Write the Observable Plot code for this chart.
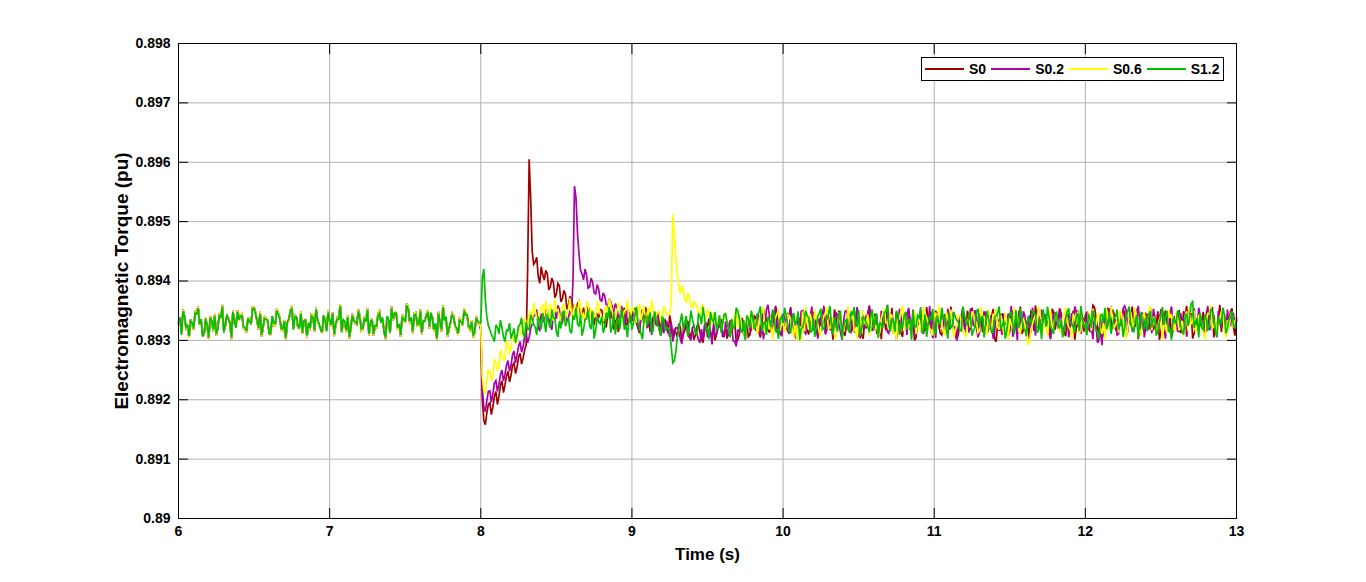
<!DOCTYPE html>
<html>
<head>
<meta charset="utf-8">
<script src="https://cdn.jsdelivr.net/npm/d3@7"></script>
<script src="https://cdn.jsdelivr.net/npm/@observablehq/plot@0.6"></script>
<style>
  html, body { margin: 0; padding: 0; background: #fff; }
  #wrap { position: relative; width: 1366px; height: 582px; overflow: hidden; }
  #legend { position: absolute; left: 921px; top: 57px; height: 22px; padding: 0 3px 0 3px;
    border: 1px solid #000; background: #fff; display: flex; align-items: center;
    font: bold 14px "Liberation Sans", Arial, sans-serif; color: #000; }
  #legend .ln { display: block; width: 39px; height: 2px; margin-right: 5px; }
  #legend .tx { margin-right: 5px; }
  #legend .tx:last-child { margin-right: 0; }
</style>
</head>
<body>
<div id="wrap"><div id="legend"></div></div>
<script>
// ---- data ----
const seriesNames = ["S0", "S0.2", "S0.6", "S1.2"];
const seriesColors = ["#a00000", "#aa00aa", "#ffff00", "#00c000"];
const xTicks = [6, 7, 8, 9, 10, 11, 12, 13];
const xTickLabels = ["6", "7", "8", "9", "10", "11", "12", "13"];
const yTicks = [0.890, 0.891, 0.892, 0.893, 0.894, 0.895, 0.896, 0.897, 0.898];
const yTickLabels = ["0.89", "0.891", "0.892", "0.893", "0.894", "0.895", "0.896", "0.897", "0.898"];
const xLabel = "Time (s)";
const yLabel = "Electromagnetic Torque (pu)";

// Samples at t = 6.00, 6.02, ... 7.98 (S0, S0.2 and S0.6 coincide before the event)
const preShared = [
0.89328,0.89312,0.89341,0.89322,0.89335,0.89318,0.89347,0.89326,0.89309,0.89338,
0.89303,0.89331,0.89344,0.89321,0.89336,0.89316,0.89342,0.89329,0.89350,0.89324,
0.89333,0.89345,0.89319,0.89339,0.89327,0.89356,0.89331,0.89348,0.89322,0.89337,
0.89314,0.89340,0.89325,0.89346,0.89318,0.89334,0.89329,0.89351,0.89320,0.89338,
0.89323,0.89311,0.89336,0.89327,0.89344,0.89315,0.89333,0.89321,0.89340,0.89317,
0.89332,0.89347,0.89324,0.89338,0.89313,0.89330,0.89342,0.89319,0.89335,0.89326,
0.89341,0.89318,0.89333,0.89308,0.89337,0.89322,0.89345,0.89328,0.89316,0.89339,
0.89311,0.89334,0.89349,0.89326,0.89343,0.89330,0.89355,0.89337,0.89346,0.89324,
0.89352,0.89331,0.89344,0.89320,0.89339,0.89327,0.89348,0.89315,0.89336,0.89306,
0.89329,0.89342,0.89318,0.89337,0.89325,0.89346,0.89321,0.89334,0.89313,0.89330];
// Samples at t = 6.01, 6.03, ... 7.99
const preSharedMid = [
0.89336,0.89352,0.89319,0.89304,0.89327,0.89349,0.89357,0.89333,0.89310,0.89322,
0.89341,0.89315,0.89308,0.89346,0.89360,0.89324,0.89338,0.89302,0.89329,0.89351,
0.89344,0.89320,0.89313,0.89335,0.89356,0.89347,0.89318,0.89306,0.89340,0.89331,
0.89309,0.89325,0.89353,0.89339,0.89316,0.89301,0.89334,0.89358,0.89343,0.89321,
0.89348,0.89330,0.89305,0.89317,0.89342,0.89355,0.89326,0.89311,0.89337,0.89350,
0.89323,0.89307,0.89339,0.89361,0.89332,0.89314,0.89303,0.89345,0.89328,0.89352,
0.89316,0.89340,0.89354,0.89327,0.89308,0.89321,0.89349,0.89336,0.89302,0.89333,
0.89357,0.89343,0.89318,0.89306,0.89338,0.89362,0.89329,0.89312,0.89347,0.89324,
0.89310,0.89335,0.89351,0.89344,0.89315,0.89300,0.89328,0.89359,0.89337,0.89319,
0.89346,0.89322,0.89309,0.89334,0.89353,0.89340,0.89317,0.89305,0.89341,0.89328];
const preS12 = [
0.89330,0.89309,0.89340,0.89325,0.89333,0.89320,0.89344,0.89327,0.89306,0.89336,
0.89305,0.89334,0.89341,0.89319,0.89338,0.89313,0.89343,0.89331,0.89348,0.89321,
0.89335,0.89342,0.89322,0.89337,0.89329,0.89354,0.89333,0.89345,0.89324,0.89335,
0.89311,0.89341,0.89328,0.89343,0.89320,0.89332,0.89331,0.89348,0.89318,0.89340,
0.89320,0.89313,0.89334,0.89330,0.89341,0.89317,0.89335,0.89318,0.89342,0.89315,
0.89334,0.89345,0.89327,0.89335,0.89315,0.89332,0.89339,0.89322,0.89333,0.89328,
0.89338,0.89320,0.89331,0.89311,0.89335,0.89325,0.89342,0.89330,0.89314,0.89341,
0.89313,0.89336,0.89346,0.89328,0.89340,0.89333,0.89352,0.89339,0.89343,0.89327,
0.89349,0.89333,0.89341,0.89323,0.89336,0.89329,0.89345,0.89318,0.89333,0.89309,
0.89331,0.89339,0.89321,0.89335,0.89327,0.89343,0.89324,0.89331,0.89316,0.89332];
const preS12Mid = [
0.89339,0.89349,0.89322,0.89307,0.89330,0.89346,0.89354,0.89336,0.89313,0.89325,
0.89338,0.89318,0.89311,0.89343,0.89357,0.89327,0.89335,0.89305,0.89332,0.89348,
0.89341,0.89323,0.89316,0.89332,0.89353,0.89344,0.89321,0.89309,0.89337,0.89334,
0.89312,0.89328,0.89350,0.89336,0.89319,0.89304,0.89337,0.89355,0.89340,0.89324,
0.89345,0.89333,0.89308,0.89320,0.89339,0.89352,0.89329,0.89314,0.89334,0.89347,
0.89326,0.89310,0.89336,0.89358,0.89335,0.89317,0.89306,0.89342,0.89331,0.89349,
0.89319,0.89337,0.89351,0.89330,0.89311,0.89324,0.89346,0.89339,0.89305,0.89336,
0.89354,0.89346,0.89321,0.89309,0.89335,0.89359,0.89332,0.89315,0.89344,0.89327,
0.89313,0.89332,0.89348,0.89347,0.89318,0.89303,0.89331,0.89356,0.89340,0.89322,
0.89343,0.89325,0.89312,0.89331,0.89350,0.89343,0.89320,0.89308,0.89338,0.89330];

// Samples at t = 8.00, 8.02, ... 13.00
const postS0 = [
0.89318,0.89165,0.89178,0.89195,0.89188,0.89214,0.89206,0.89232,0.89225,0.89248,
0.89241,0.89262,0.89255,0.89278,0.89270,0.89292,0.89605,0.89450,0.89432,0.89408,
0.89424,0.89402,0.89412,0.89390,0.89398,0.89378,0.89392,0.89370,0.89378,0.89360,
0.89368,0.89352,0.89362,0.89345,0.89355,0.89340,0.89350,0.89332,0.89346,0.89338,
0.89351,0.89327,0.89344,0.89336,0.89318,0.89349,0.89330,0.89342,0.89325,0.89347,
0.89333,0.89354,0.89321,0.89340,0.89329,0.89345,0.89316,0.89338,0.89326,0.89343,
0.89320,0.89334,0.89312,0.89328,0.89318,0.89306,0.89322,0.89310,0.89326,0.89304,
0.89318,0.89309,0.89327,0.89302,0.89315,0.89324,0.89308,0.89321,0.89311,0.89330,
0.89306,0.89319,0.89328,0.89312,0.89334,0.89301,0.89322,0.89315,0.89331,0.89309,
0.89325,0.89338,0.89314,0.89329,0.89343,0.89318,0.89336,0.89322,0.89347,0.89311,
0.89334,0.89320,0.89341,0.89327,0.89306,0.89338,0.89323,0.89345,0.89316,0.89332,
0.89348,0.89319,0.89337,0.89325,0.89312,0.89340,0.89328,0.89352,0.89321,0.89335,
0.89314,0.89329,0.89343,0.89318,0.89337,0.89324,0.89308,0.89333,0.89346,0.89320,
0.89336,0.89311,0.89327,0.89342,0.89317,0.89331,0.89355,0.89322,0.89338,0.89313,
0.89330,0.89345,0.89319,0.89334,0.89305,0.89326,0.89341,0.89316,0.89332,0.89348,
0.89321,0.89337,0.89312,0.89329,0.89344,0.89318,0.89335,0.89323,0.89310,0.89339,
0.89326,0.89350,0.89317,0.89333,0.89322,0.89345,0.89314,0.89331,0.89319,0.89340,
0.89302,0.89328,0.89343,0.89320,0.89336,0.89315,0.89347,0.89325,0.89338,0.89311,
0.89334,0.89322,0.89349,0.89316,0.89330,0.89341,0.89319,0.89335,0.89327,0.89353,
0.89318,0.89332,0.89345,0.89313,0.89339,0.89324,0.89350,0.89321,0.89336,0.89329,
0.89342,0.89317,0.89333,0.89356,0.89322,0.89338,0.89311,0.89344,0.89327,0.89352,
0.89319,0.89336,0.89324,0.89347,0.89315,0.89340,0.89328,0.89353,0.89321,0.89334,
0.89345,0.89318,0.89331,0.89326,0.89349,0.89314,0.89337,0.89323,0.89342,0.89316,
0.89333,0.89351,0.89320,0.89338,0.89327,0.89346,0.89312,0.89335,0.89324,0.89348,
0.89319,0.89340,0.89356,0.89325,0.89337,0.89314,0.89343,0.89330,0.89348,0.89322,
0.89338];
// Samples at t = 8.01, 8.03, ... 12.99
const postS0Mid = [
0.89200,0.89158,0.89192,0.89175,0.89206,0.89192,0.89224,0.89212,0.89240,0.89230,
0.89258,0.89244,0.89272,0.89260,0.89284,0.89420,0.89540,0.89428,0.89440,0.89396,
0.89410,0.89418,0.89385,0.89405,0.89372,0.89396,0.89365,0.89384,0.89352,0.89374,
0.89358,0.89347,0.89366,0.89340,0.89335,0.89357,0.89349,0.89326,0.89344,0.89352,
0.89338,0.89322,0.89351,0.89360,0.89331,0.89314,0.89340,0.89355,0.89327,0.89345,
0.89350,0.89329,0.89312,0.89341,0.89356,0.89334,0.89318,0.89347,0.89325,0.89308,
0.89331,0.89319,0.89342,0.89305,0.89314,0.89328,0.89298,0.89317,0.89333,0.89310,
0.89301,0.89324,0.89313,0.89296,0.89328,0.89337,0.89309,0.89300,0.89322,0.89335,
0.89314,0.89303,0.89331,0.89326,0.89297,0.89310,0.89338,0.89319,0.89306,0.89329,
0.89341,0.89318,0.89305,0.89352,0.89330,0.89313,0.89346,0.89358,0.89327,0.89309,
0.89320,0.89344,0.89356,0.89316,0.89302,0.89335,0.89349,0.89325,0.89310,0.89341,
0.89333,0.89305,0.89326,0.89358,0.89342,0.89317,0.89301,0.89339,0.89350,0.89322,
0.89308,0.89346,0.89331,0.89315,0.89354,0.89338,0.89303,0.89320,0.89357,0.89329,
0.89345,0.89318,0.89302,0.89337,0.89360,0.89324,0.89311,0.89348,0.89334,0.89306,
0.89339,0.89352,0.89314,0.89300,0.89333,0.89347,0.89321,0.89356,0.89328,0.89304,
0.89350,0.89325,0.89309,0.89343,0.89331,0.89357,0.89318,0.89302,0.89336,0.89349,
0.89313,0.89340,0.89355,0.89323,0.89305,0.89338,0.89346,0.89312,0.89329,0.89353,
0.89298,0.89316,0.89344,0.89335,0.89308,0.89351,0.89324,0.89339,0.89357,0.89317,
0.89330,0.89303,0.89347,0.89359,0.89321,0.89312,0.89340,0.89326,0.89305,0.89348,
0.89336,0.89354,0.89319,0.89307,0.89343,0.89328,0.89301,0.89350,0.89333,0.89315,
0.89348,0.89326,0.89359,0.89340,0.89311,0.89304,0.89337,0.89355,0.89322,0.89344,
0.89314,0.89331,0.89352,0.89308,0.89339,0.89357,0.89325,0.89302,0.89346,0.89320,
0.89343,0.89355,0.89317,0.89329,0.89301,0.89336,0.89350,0.89318,0.89306,0.89341,
0.89327,0.89312,0.89349,0.89358,0.89334,0.89303,0.89320,0.89345,0.89331,0.89310,
0.89352,0.89337,0.89305,0.89326,0.89360,0.89341,0.89315,0.89329,0.89354,0.89308];

const postS02 = [
0.89320,0.89188,0.89198,0.89215,0.89210,0.89232,0.89226,0.89250,0.89243,0.89266,
0.89258,0.89282,0.89275,0.89298,0.89290,0.89312,0.89305,0.89328,0.89342,0.89320,
0.89345,0.89331,0.89350,0.89326,0.89344,0.89336,0.89352,0.89330,0.89347,0.89338,
0.89342,0.89560,0.89480,0.89418,0.89402,0.89410,0.89390,0.89398,0.89378,0.89386,
0.89366,0.89375,0.89356,0.89365,0.89348,0.89355,0.89338,0.89350,0.89333,0.89346,
0.89337,0.89352,0.89328,0.89343,0.89335,0.89322,0.89348,0.89331,0.89340,0.89318,
0.89336,0.89325,0.89315,0.89330,0.89309,0.89321,0.89303,0.89317,0.89328,0.89306,
0.89322,0.89313,0.89301,0.89319,0.89326,0.89305,0.89316,0.89329,0.89310,0.89323,
0.89314,0.89332,0.89307,0.89325,0.89298,0.89318,0.89330,0.89311,0.89327,0.89319,
0.89335,0.89316,0.89341,0.89328,0.89319,0.89360,0.89322,0.89337,0.89313,0.89330,
0.89345,0.89326,0.89311,0.89338,0.89320,0.89333,0.89349,0.89315,0.89328,0.89341,
0.89317,0.89334,0.89323,0.89346,0.89310,0.89329,0.89338,0.89321,0.89343,0.89314,
0.89331,0.89350,0.89318,0.89336,0.89325,0.89307,0.89339,0.89322,0.89333,0.89347,
0.89320,0.89341,0.89315,0.89329,0.89336,0.89312,0.89344,0.89326,0.89318,0.89339,
0.89324,0.89309,0.89337,0.89352,0.89321,0.89334,0.89316,0.89340,0.89328,0.89313,
0.89335,0.89348,0.89322,0.89339,0.89317,0.89331,0.89345,0.89308,0.89327,0.89343,
0.89319,0.89336,0.89354,0.89324,0.89341,0.89313,0.89330,0.89347,0.89321,0.89338,
0.89315,0.89333,0.89320,0.89345,0.89328,0.89339,0.89306,0.89332,0.89350,0.89318,
0.89341,0.89325,0.89313,0.89336,0.89352,0.89319,0.89334,0.89344,0.89311,0.89330,
0.89346,0.89320,0.89337,0.89315,0.89342,0.89328,0.89317,0.89349,0.89326,0.89339,
0.89314,0.89331,0.89322,0.89345,0.89296,0.89318,0.89340,0.89326,0.89352,0.89320,
0.89335,0.89311,0.89329,0.89358,0.89324,0.89338,0.89316,0.89343,0.89330,0.89347,
0.89321,0.89336,0.89312,0.89340,0.89327,0.89351,0.89318,0.89333,0.89346,0.89323,
0.89339,0.89315,0.89330,0.89348,0.89322,0.89336,0.89354,0.89319,0.89341,0.89328,
0.89344,0.89317,0.89333,0.89326,0.89350,0.89321,0.89338,0.89352,0.89324,0.89345,
0.89332];
const postS02Mid = [
0.89220,0.89180,0.89214,0.89196,0.89228,0.89214,0.89242,0.89232,0.89258,0.89248,
0.89276,0.89262,0.89290,0.89280,0.89306,0.89296,0.89320,0.89341,0.89352,0.89317,
0.89334,0.89356,0.89340,0.89318,0.89347,0.89359,0.89326,0.89345,0.89333,0.89350,
0.89400,0.89540,0.89445,0.89412,0.89420,0.89388,0.89405,0.89380,0.89394,0.89368,
0.89380,0.89360,0.89370,0.89345,0.89362,0.89340,0.89358,0.89326,0.89352,0.89330,
0.89346,0.89331,0.89315,0.89352,0.89340,0.89324,0.89309,0.89336,0.89347,0.89320,
0.89312,0.89333,0.89306,0.89298,0.89321,0.89315,0.89294,0.89327,0.89308,0.89300,
0.89325,0.89311,0.89296,0.89302,0.89330,0.89318,0.89293,0.89309,0.89324,0.89336,
0.89305,0.89320,0.89334,0.89299,0.89290,0.89314,0.89327,0.89303,0.89338,0.89317,
0.89328,0.89345,0.89310,0.89302,0.89352,0.89341,0.89319,0.89356,0.89333,0.89307,
0.89339,0.89316,0.89353,0.89344,0.89304,0.89325,0.89350,0.89311,0.89336,0.89357,
0.89322,0.89303,0.89340,0.89355,0.89318,0.89332,0.89308,0.89347,0.89326,0.89301,
0.89349,0.89335,0.89312,0.89329,0.89356,0.89305,0.89320,0.89343,0.89359,0.89316,
0.89331,0.89307,0.89350,0.89338,0.89314,0.89345,0.89327,0.89302,0.89353,0.89320,
0.89340,0.89355,0.89318,0.89306,0.89334,0.89349,0.89311,0.89326,0.89358,0.89337,
0.89304,0.89328,0.89346,0.89321,0.89353,0.89339,0.89310,0.89300,0.89342,0.89356,
0.89325,0.89313,0.89337,0.89351,0.89306,0.89330,0.89348,0.89319,0.89341,0.89303,
0.89352,0.89334,0.89309,0.89327,0.89345,0.89358,0.89316,0.89300,0.89338,0.89349,
0.89317,0.89342,0.89355,0.89308,0.89329,0.89352,0.89336,0.89313,0.89302,0.89344,
0.89330,0.89351,0.89320,0.89339,0.89305,0.89346,0.89357,0.89324,0.89311,0.89335,
0.89348,0.89314,0.89302,0.89328,0.89300,0.89292,0.89318,0.89340,0.89355,0.89326,
0.89309,0.89343,0.89354,0.89350,0.89331,0.89316,0.89345,0.89358,0.89322,0.89305,
0.89340,0.89327,0.89353,0.89311,0.89336,0.89349,0.89303,0.89320,0.89357,0.89333,
0.89315,0.89346,0.89330,0.89306,0.89352,0.89341,0.89318,0.89355,0.89326,0.89339,
0.89358,0.89321,0.89343,0.89305,0.89335,0.89350,0.89312,0.89329,0.89346,0.89324];

const postS06 = [
0.89322,0.89215,0.89232,0.89248,0.89240,0.89262,0.89255,0.89276,0.89268,0.89292,
0.89285,0.89305,0.89298,0.89318,0.89312,0.89330,0.89342,0.89328,0.89351,0.89336,
0.89355,0.89340,0.89347,0.89362,0.89333,0.89350,0.89341,0.89358,0.89337,0.89352,
0.89343,0.89360,0.89338,0.89353,0.89345,0.89364,0.89336,0.89350,0.89342,0.89357,
0.89339,0.89354,0.89346,0.89361,0.89335,0.89349,0.89358,0.89340,0.89352,0.89337,
0.89356,0.89343,0.89350,0.89334,0.89359,0.89345,0.89338,0.89353,0.89341,0.89348,
0.89336,0.89351,0.89344,0.89360,0.89480,0.89412,0.89378,0.89385,0.89365,0.89372,
0.89355,0.89362,0.89348,0.89356,0.89340,0.89351,0.89333,0.89346,0.89328,0.89342,
0.89325,0.89338,0.89319,0.89333,0.89345,0.89322,0.89336,0.89314,0.89329,0.89341,
0.89318,0.89335,0.89326,0.89347,0.89312,0.89330,0.89339,0.89321,0.89344,0.89316,
0.89333,0.89327,0.89342,0.89319,0.89336,0.89324,0.89298,0.89315,0.89330,0.89345,
0.89322,0.89338,0.89313,0.89331,0.89347,0.89320,0.89335,0.89309,0.89328,0.89342,
0.89316,0.89334,0.89325,0.89350,0.89319,0.89337,0.89312,0.89330,0.89344,0.89321,
0.89339,0.89326,0.89313,0.89345,0.89330,0.89318,0.89341,0.89323,0.89335,0.89349,
0.89315,0.89332,0.89327,0.89343,0.89311,0.89336,0.89320,0.89346,0.89329,0.89317,
0.89340,0.89323,0.89337,0.89314,0.89348,0.89326,0.89333,0.89319,0.89342,0.89328,
0.89312,0.89335,0.89321,0.89344,0.89330,0.89316,0.89339,0.89325,0.89351,0.89318,
0.89334,0.89322,0.89343,0.89310,0.89329,0.89337,0.89320,0.89346,0.89315,0.89331,
0.89327,0.89294,0.89318,0.89336,0.89324,0.89347,0.89313,0.89332,0.89340,0.89321,
0.89338,0.89325,0.89314,0.89342,0.89330,0.89319,0.89345,0.89327,0.89311,0.89336,
0.89323,0.89348,0.89316,0.89334,0.89341,0.89320,0.89329,0.89353,0.89318,0.89337,
0.89326,0.89313,0.89344,0.89331,0.89319,0.89348,0.89322,0.89336,0.89314,0.89340,
0.89329,0.89346,0.89317,0.89335,0.89321,0.89342,0.89330,0.89312,0.89338,0.89325,
0.89347,0.89318,0.89333,0.89340,0.89315,0.89328,0.89350,0.89324,0.89337,0.89313,
0.89331,0.89345,0.89320,0.89336,0.89327,0.89349,0.89316,0.89334,0.89341,0.89322,
0.89336];
const postS06Mid = [
0.89240,0.89210,0.89250,0.89232,0.89268,0.89250,0.89284,0.89266,0.89300,0.89280,
0.89312,0.89296,0.89326,0.89310,0.89340,0.89322,0.89350,0.89363,0.89338,0.89346,
0.89359,0.89366,0.89336,0.89344,0.89369,0.89352,0.89331,0.89360,0.89348,0.89371,
0.89337,0.89355,0.89368,0.89341,0.89330,0.89362,0.89351,0.89339,0.89366,0.89345,
0.89333,0.89357,0.89370,0.89348,0.89336,0.89362,0.89329,0.89350,0.89367,0.89340,
0.89353,0.89330,0.89361,0.89346,0.89327,0.89355,0.89368,0.89338,0.89349,0.89332,
0.89358,0.89343,0.89345,0.89512,0.89440,0.89390,0.89392,0.89368,0.89380,0.89358,
0.89366,0.89357,0.89345,0.89360,0.89338,0.89349,0.89327,0.89341,0.89330,0.89318,
0.89342,0.89331,0.89308,0.89322,0.89350,0.89339,0.89313,0.89304,0.89336,0.89347,
0.89325,0.89311,0.89344,0.89356,0.89330,0.89318,0.89302,0.89339,0.89352,0.89327,
0.89314,0.89343,0.89335,0.89306,0.89300,0.89322,0.89349,0.89356,0.89318,0.89331,
0.89352,0.89327,0.89309,0.89341,0.89355,0.89320,0.89336,0.89303,0.89345,0.89312,
0.89330,0.89357,0.89344,0.89316,0.89302,0.89339,0.89351,0.89326,0.89308,0.89347,
0.89319,0.89306,0.89338,0.89354,0.89329,0.89345,0.89310,0.89301,0.89336,0.89358,
0.89341,0.89323,0.89305,0.89350,0.89333,0.89314,0.89356,0.89339,0.89320,0.89308,
0.89347,0.89359,0.89328,0.89311,0.89338,0.89352,0.89304,0.89325,0.89343,0.89317,
0.89305,0.89334,0.89349,0.89327,0.89313,0.89356,0.89340,0.89309,0.89322,0.89345,
0.89353,0.89318,0.89332,0.89347,0.89301,0.89326,0.89355,0.89340,0.89312,0.89337,
0.89305,0.89296,0.89328,0.89343,0.89357,0.89319,0.89334,0.89306,0.89350,0.89326,
0.89344,0.89315,0.89339,0.89356,0.89322,0.89303,0.89337,0.89349,0.89318,0.89330,
0.89309,0.89341,0.89353,0.89325,0.89346,0.89311,0.89302,0.89338,0.89357,0.89321,
0.89336,0.89350,0.89316,0.89304,0.89342,0.89329,0.89355,0.89320,0.89308,0.89347,
0.89323,0.89358,0.89340,0.89312,0.89335,0.89301,0.89327,0.89352,0.89344,0.89315,
0.89338,0.89320,0.89306,0.89349,0.89357,0.89331,0.89314,0.89343,0.89326,0.89302,
0.89345,0.89359,0.89324,0.89310,0.89337,0.89352,0.89305,0.89319,0.89348,0.89333];

const postS12 = [
0.89330,0.89420,0.89340,0.89318,0.89305,0.89326,0.89311,0.89322,0.89298,0.89316,
0.89303,0.89320,0.89309,0.89327,0.89312,0.89331,0.89318,0.89336,0.89322,0.89340,
0.89319,0.89333,0.89345,0.89321,0.89338,0.89315,0.89332,0.89347,0.89324,0.89337,
0.89312,0.89335,0.89328,0.89344,0.89319,0.89336,0.89325,0.89349,0.89317,0.89331,
0.89340,0.89322,0.89337,0.89313,0.89346,0.89328,0.89319,0.89341,0.89326,0.89335,
0.89318,0.89343,0.89329,0.89311,0.89338,0.89324,0.89347,0.89316,0.89333,0.89321,
0.89339,0.89317,0.89320,0.89290,0.89265,0.89305,0.89332,0.89318,0.89341,0.89325,
0.89336,0.89314,0.89344,0.89327,0.89339,0.89320,0.89348,0.89331,0.89316,0.89342,
0.89328,0.89345,0.89319,0.89336,0.89323,0.89350,0.89317,0.89334,0.89342,0.89321,
0.89338,0.89326,0.89347,0.89315,0.89332,0.89340,0.89322,0.89345,0.89318,0.89335,
0.89329,0.89343,0.89316,0.89338,0.89325,0.89349,0.89320,0.89334,0.89341,0.89314,
0.89337,0.89323,0.89346,0.89318,0.89331,0.89344,0.89326,0.89339,0.89315,0.89348,
0.89322,0.89335,0.89313,0.89342,0.89328,0.89351,0.89319,0.89336,0.89324,0.89340,
0.89317,0.89345,0.89330,0.89321,0.89348,0.89326,0.89337,0.89314,0.89343,0.89329,
0.89341,0.89318,0.89335,0.89350,0.89323,0.89338,0.89312,0.89344,0.89327,0.89336,
0.89315,0.89342,0.89328,0.89337,0.89319,0.89346,0.89324,0.89339,0.89331,0.89316,
0.89343,0.89325,0.89338,0.89317,0.89349,0.89322,0.89340,0.89328,0.89335,0.89313,
0.89339,0.89346,0.89320,0.89334,0.89316,0.89343,0.89327,0.89351,0.89321,0.89337,
0.89318,0.89340,0.89329,0.89345,0.89314,0.89336,0.89352,0.89323,0.89338,0.89317,
0.89344,0.89326,0.89335,0.89319,0.89348,0.89330,0.89322,0.89341,0.89316,0.89339,
0.89327,0.89345,0.89321,0.89338,0.89314,0.89342,0.89331,0.89319,0.89346,0.89325,
0.89340,0.89318,0.89336,0.89323,0.89349,0.89327,0.89315,0.89343,0.89332,0.89320,
0.89338,0.89345,0.89322,0.89334,0.89317,0.89341,0.89326,0.89350,0.89319,0.89336,
0.89328,0.89344,0.89316,0.89339,0.89325,0.89362,0.89321,0.89337,0.89346,0.89318,
0.89335,0.89322,0.89348,0.89316,0.89340,0.89329,0.89343,0.89320,0.89337,0.89326,
0.89334];
const postS12Mid = [
0.89405,0.89370,0.89325,0.89310,0.89298,0.89322,0.89334,0.89306,0.89317,0.89329,
0.89311,0.89296,0.89324,0.89338,0.89305,0.89319,0.89343,0.89327,0.89309,0.89335,
0.89346,0.89314,0.89329,0.89352,0.89338,0.89306,0.89320,0.89349,0.89331,0.89316,
0.89342,0.89355,0.89323,0.89308,0.89336,0.89351,0.89319,0.89303,0.89340,0.89328,
0.89313,0.89347,0.89356,0.89324,0.89310,0.89339,0.89352,0.89318,0.89305,0.89344,
0.89330,0.89357,0.89321,0.89302,0.89343,0.89335,0.89312,0.89349,0.89326,0.89308,
0.89337,0.89322,0.89315,0.89262,0.89280,0.89320,0.89345,0.89331,0.89307,0.89350,
0.89324,0.89309,0.89341,0.89356,0.89318,0.89302,0.89335,0.89348,0.89327,0.89313,
0.89344,0.89330,0.89305,0.89321,0.89355,0.89339,0.89314,0.89300,0.89336,0.89350,
0.89319,0.89343,0.89357,0.89328,0.89309,0.89334,0.89352,0.89316,0.89303,0.89340,
0.89355,0.89327,0.89312,0.89346,0.89333,0.89301,0.89322,0.89350,0.89338,0.89315,
0.89306,0.89341,0.89353,0.89320,0.89336,0.89358,0.89311,0.89327,0.89345,0.89302,
0.89333,0.89318,0.89349,0.89356,0.89323,0.89307,0.89340,0.89329,0.89314,0.89352,
0.89338,0.89304,0.89326,0.89347,0.89359,0.89315,0.89332,0.89350,0.89309,0.89321,
0.89348,0.89335,0.89301,0.89324,0.89342,0.89356,0.89318,0.89306,0.89339,0.89353,
0.89312,0.89329,0.89355,0.89340,0.89303,0.89321,0.89348,0.89334,0.89317,0.89357,
0.89331,0.89346,0.89308,0.89322,0.89353,0.89339,0.89305,0.89350,0.89326,0.89314,
0.89342,0.89357,0.89325,0.89303,0.89336,0.89349,0.89311,0.89328,0.89354,0.89319,
0.89307,0.89333,0.89351,0.89344,0.89316,0.89302,0.89340,0.89357,0.89323,0.89311,
0.89347,0.89320,0.89305,0.89338,0.89354,0.89329,0.89313,0.89345,0.89358,0.89324,
0.89309,0.89336,0.89350,0.89317,0.89302,0.89344,0.89355,0.89326,0.89311,0.89339,
0.89352,0.89328,0.89306,0.89341,0.89357,0.89319,0.89333,0.89304,0.89348,0.89321,
0.89315,0.89349,0.89337,0.89308,0.89330,0.89356,0.89342,0.89314,0.89301,0.89335,
0.89350,0.89324,0.89310,0.89345,0.89339,0.89365,0.89332,0.89305,0.89321,0.89343,
0.89318,0.89353,0.89340,0.89306,0.89327,0.89355,0.89312,0.89336,0.89349,0.89322];

// ---- build table: interleave the even-hundredth and odd-hundredth samples ----
const mainSamples = [
  preShared.concat(postS0),
  preShared.concat(postS02),
  preShared.concat(postS06),
  preS12.concat(postS12)
];
const midSamples = [
  preSharedMid.concat(postS0Mid),
  preSharedMid.concat(postS02Mid),
  preSharedMid.concat(postS06Mid),
  preS12Mid.concat(postS12Mid)
];
const startTime = 6, mainStep = 0.02, midOffset = 0.01;
const rows = [];
seriesNames.forEach((name, k) => {
  const a = mainSamples[k], b = midSamples[k];
  a.forEach((v, i) => {
    rows.push({series: name, t: startTime + i * mainStep, v});
    if (i < b.length) rows.push({series: name, t: startTime + i * mainStep + midOffset, v: b[i]});
  });
});

const font = '"Liberation Sans", Arial, sans-serif';

const chart = Plot.plot({
  width: 1366,
  height: 582,
  marginLeft: 178,
  marginRight: 130,
  marginTop: 43,
  marginBottom: 64,
  style: {fontFamily: font, fontSize: "14px", fontWeight: "bold", color: "#000", background: "#fff"},
  x: {domain: [6, 13]},
  y: {domain: [0.890, 0.898]},
  color: {domain: seriesNames, range: seriesColors},
  marks: [
    Plot.gridX(xTicks, {stroke: "#b0b0b0", strokeOpacity: 1}),
    Plot.gridY(yTicks, {stroke: "#b0b0b0", strokeOpacity: 1}),
    Plot.line(rows, {x: "t", y: "v", z: "series", stroke: "series", strokeWidth: 1.7, strokeLinejoin: "miter", strokeMiterlimit: 3}),
    Plot.frame({stroke: "#000", strokeWidth: 1}),
    // inward ticks on all four sides
    Plot.axisX(xTicks, {anchor: "bottom", tickSize: -10, tickFormat: () => "", label: null, stroke: "#000"}),
    Plot.axisX(xTicks, {anchor: "top", tickSize: -10, tickFormat: () => "", label: null, stroke: "#000"}),
    Plot.axisY(yTicks, {anchor: "left", tickSize: -10, tickFormat: () => "", label: null, stroke: "#000"}),
    Plot.axisY(yTicks, {anchor: "right", tickSize: -10, tickFormat: () => "", label: null, stroke: "#000"}),
    // tick labels
    Plot.axisX(xTicks, {anchor: "bottom", tickSize: 0, tickPadding: 8, tickFormat: (d) => xTickLabels[xTicks.indexOf(d)], label: null, fontSize: 14, fontWeight: "bold"}),
    Plot.axisY(yTicks, {anchor: "left", tickSize: 0, tickPadding: 8, tickFormat: (d) => yTickLabels[yTicks.indexOf(d)], label: null, fontSize: 14, fontWeight: "bold"}),
    // axis titles
    Plot.text([xLabel], {frameAnchor: "bottom", dy: 41, fontSize: 17, fontWeight: "bold", fill: "#000"}),
    Plot.text([yLabel], {frameAnchor: "left", textAnchor: "middle", dx: -57, rotate: -90, fontSize: 19, fontWeight: "bold", fill: "#000"})
  ]
});

const wrap = document.getElementById("wrap");
wrap.insertBefore(chart, wrap.firstChild);

// legend
const legend = document.getElementById("legend");
seriesNames.forEach((name, k) => {
  const ln = document.createElement("span");
  ln.className = "ln";
  ln.style.background = seriesColors[k];
  const tx = document.createElement("span");
  tx.className = "tx";
  tx.textContent = name;
  legend.appendChild(ln);
  legend.appendChild(tx);
});
</script>
</body>
</html>
